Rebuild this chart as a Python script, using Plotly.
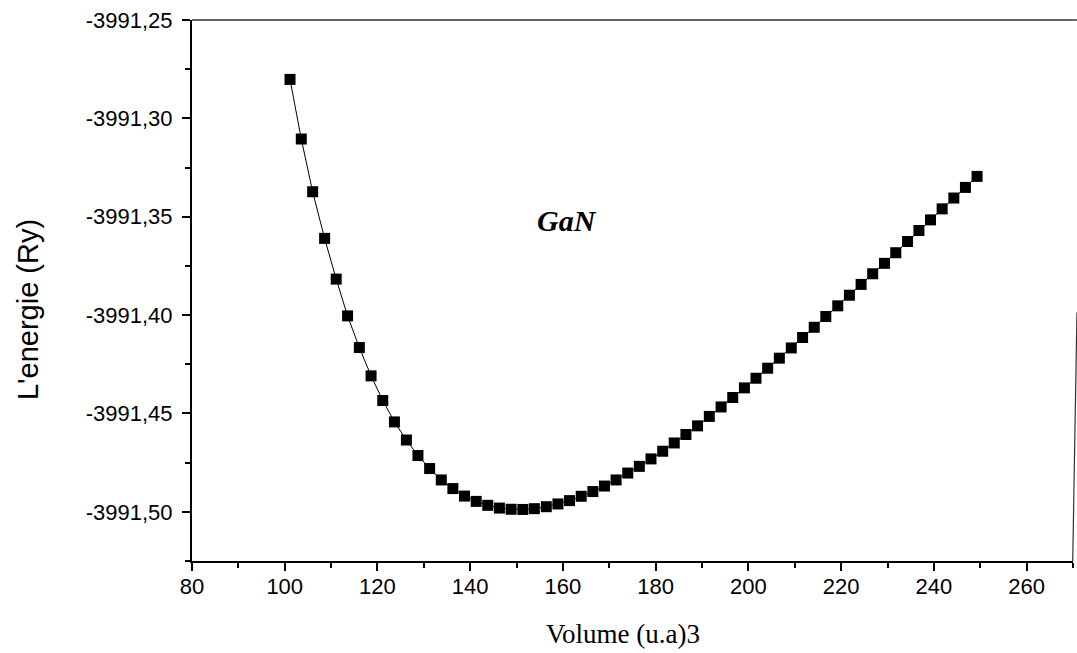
import plotly.graph_objects as go

volume = [101.14, 103.57, 106.02, 108.60, 111.10, 113.55, 116.09, 118.62, 121.14, 123.66,
          126.24, 128.73, 131.25, 133.76, 136.26, 138.77, 141.29, 143.78, 146.30, 148.82,
          151.35, 153.83, 156.41, 158.92, 161.42, 163.94, 166.45, 168.95, 171.46, 173.98,
          176.47, 178.99, 181.51, 184.00, 186.52, 189.03, 191.57, 194.11, 196.62, 199.14,
          201.63, 204.15, 206.67, 209.25, 211.68, 214.19, 216.69, 219.27, 221.78, 224.30,
          226.80, 229.35, 231.78, 234.32, 236.77, 239.27, 241.78, 244.30, 246.80, 249.31]
energy = [-3991.2802, -3991.3105, -3991.3373, -3991.3610, -3991.3817, -3991.4004, -3991.4165,
          -3991.4309, -3991.4434, -3991.4543, -3991.4635, -3991.4714, -3991.4780, -3991.4838,
          -3991.4882, -3991.4920, -3991.4947, -3991.4967, -3991.4981, -3991.4987, -3991.4988,
          -3991.4984, -3991.4974, -3991.4960, -3991.4943, -3991.4921, -3991.4897, -3991.4869,
          -3991.4838, -3991.4803, -3991.4769, -3991.4731, -3991.4692, -3991.4650, -3991.4607,
          -3991.4563, -3991.4515, -3991.4467, -3991.4419, -3991.4370, -3991.4321, -3991.4270,
          -3991.4219, -3991.4167, -3991.4114, -3991.4062, -3991.4007, -3991.3953, -3991.3899,
          -3991.3844, -3991.3790, -3991.3737, -3991.3683, -3991.3626, -3991.3570, -3991.3516,
          -3991.3460, -3991.3405, -3991.3351, -3991.3295]

y_tickvals = [-3991.50, -3991.45, -3991.40, -3991.35, -3991.30, -3991.25]
y_ticktext = ["-3991,50", "-3991,45", "-3991,40", "-3991,35", "-3991,30", "-3991,25"]
x_tickvals = [80, 100, 120, 140, 160, 180, 200, 220, 240, 260]
x_ticktext = ["80", "100", "120", "140", "160", "180", "200", "220", "240", "260"]

fig = go.Figure()
fig.add_trace(go.Scatter(
    x=volume, y=energy, mode="lines+markers",
    line=dict(color="black", width=1),
    marker=dict(symbol="square", size=11, color="black"),
    showlegend=False,
))

tick_font = dict(family="Liberation Sans, Arial", size=22, color="black")

fig.update_layout(
    width=1077, height=653,
    margin=dict(l=192, r=4, t=20, b=92),
    paper_bgcolor="white", plot_bgcolor="white",
    xaxis=dict(
        range=[80, 270], showgrid=False, zeroline=False,
        showline=True, linecolor="black", linewidth=2,
        ticks="outside", ticklen=8, tickwidth=2, tickcolor="black",
        tickvals=x_tickvals, ticktext=x_ticktext, tickfont=tick_font,
        ticklabelstandoff=-3,
        minor=dict(ticks="outside", dtick=10, tick0=80, ticklen=5, tickwidth=2, tickcolor="black", showgrid=False),
    ),
    yaxis=dict(
        range=[-3991.525, -3991.25], showgrid=False, zeroline=False,
        showline=True, linecolor="black", linewidth=2,
        ticks="outside", ticklen=8, tickwidth=2, tickcolor="black",
        tickvals=y_tickvals, ticktext=y_ticktext, tickfont=tick_font,
        ticklabelstandoff=5,
        minor=dict(ticks="outside", dtick=0.025, tick0=-3991.5, ticklen=5, tickwidth=2, tickcolor="black", showgrid=False),
    ),
    shapes=[
        dict(type="line", xref="paper", yref="paper", x0=0, x1=1.0045, y0=1, y1=1,
             line=dict(color="#333333", width=1.5)),
        dict(type="line", xref="paper", yref="paper", x0=1.0045, x1=0.9997, y0=0.46, y1=0,
             line=dict(color="#333333", width=1.2)),
    ],
    annotations=[
        dict(x=160.9, y=-3991.3517, xref="x", yref="y", text="<b><i>GaN</i></b>",
             showarrow=False, font=dict(family="Liberation Serif, Times New Roman", size=30, color="black")),
        dict(x=0.489, y=-0.135, xref="paper", yref="paper", text="Volume (u.a)3",
             showarrow=False, xanchor="center", yanchor="middle",
             font=dict(family="Liberation Serif, Times New Roman", size=27, color="black")),
        dict(x=-0.186, y=0.464, xref="paper", yref="paper", text="L'energie (Ry)",
             showarrow=False, textangle=-90, xanchor="center", yanchor="middle",
             font=dict(family="Liberation Sans, Arial", size=29, color="black")),
    ],
)

fig.write_html("out.html")
